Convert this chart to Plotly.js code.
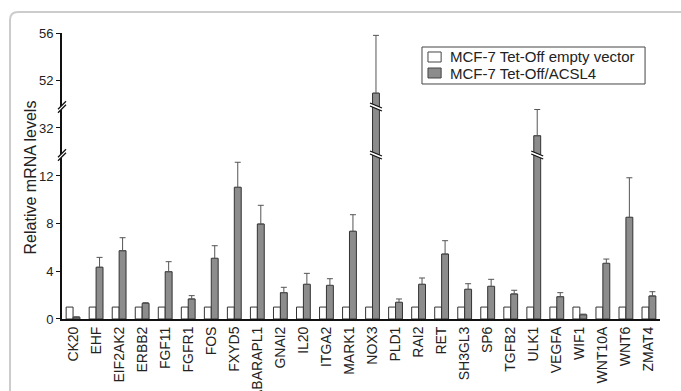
<!DOCTYPE html>
<html>
<head>
<meta charset="utf-8">
<script src="https://cdn.plot.ly/plotly-3.0.1.min.js"></script>
<style>html,body{margin:0;padding:0;background:#fff;}#chart{width:681px;height:391px;}</style>
</head>
<body>
<div id="chart"></div>
<script>
// ---- data ----
const categories = ["CK20","EHF","EIF2AK2","ERBB2","FGF11","FGFR1","FOS","FXYD5","GABARAPL1","GNAI2","IL20","ITGA2","MARK1","NOX3","PLD1","RAI2","RET","SH3GL3","SP6","TGFB2","ULK1","VEGFA","WIF1","WNT10A","WNT6","ZMAT4"];
const emptyVector = [1,1,1,1,1,1,1,1,1,1,1,1,1,1,1,1,1,1,1,1,1,1,1,1,1,1];
const acsl4 = [0.15,4.34,5.73,1.31,3.97,1.68,5.09,11.05,7.97,2.21,2.91,2.82,7.36,50.9,1.40,2.91,5.45,2.49,2.74,2.10,31.35,1.87,0.36,4.67,8.53,1.93];
const acsl4Err = [0.03,0.83,1.09,0.06,0.84,0.28,1.06,2.1,1.57,0.45,0.92,0.56,1.39,4.9,0.28,0.53,1.12,0.47,0.59,0.31,2.2,0.34,0.05,0.36,3.32,0.36];
const seriesNames = ["MCF-7 Tet-Off empty vector","MCF-7 Tet-Off/ACSL4"];
const seriesColors = ["#ffffff","#8c8c8c"];

// broken axis segments
const segRanges = [[0,13.76],[29.73,33.76],[49.73,56]];
const segTicks = [[0,4,8,12],[32],[52,56]];
const segDomains = [[0,0.5734],[0.5734,0.7413],[0.7413,1]];
const axisNames = ["y","y2","y3"];

const traces = [];
axisNames.forEach((ax,i)=>{
  traces.push({type:"bar", x:categories, y:emptyVector, name:seriesNames[0], yaxis:ax, xaxis:"x",
    marker:{color:seriesColors[0], line:{color:"#333333", width:1}}, showlegend:false});
  traces.push({type:"bar", x:categories, y:acsl4, name:seriesNames[1], yaxis:ax, xaxis:"x",
    marker:{color:seriesColors[1], line:{color:"#333333", width:1}}, showlegend:false,
    error_y:{type:"data", array:acsl4Err, symmetric:false, arrayminus:acsl4Err.map(()=>0), color:"#555555", thickness:1, width:3}});
});

const FONT = "Liberation Sans, Arial, sans-serif";
const tickFont = {family:FONT, size:13, color:"#222"};
function yax(i){
  return {domain:segDomains[i], range:segRanges[i], tickvals:segTicks[i], ticktext:segTicks[i].map(String),
    showline:true, linecolor:"#111", linewidth:2, ticks:"outside", ticklen:4, tickwidth:1, tickcolor:"#111",
    showgrid:false, zeroline:false, tickfont:tickFont, anchor:"x", fixedrange:true};
}

const shapes = [];
// outer frame
shapes.push({type:"path", xref:"paper", yref:"paper", xsizemode:"pixel", ysizemode:"pixel", xanchor:0, yanchor:0,
  path:"M -52,-90 L -52,299 Q -52,307 -44,307 L 640,307", line:{color:"#cccccc", width:2}, layer:"below"});

function breakMark(xref, xanchor, yfrac, w, h, gap){
  const p1 = `M ${-w},${-h/2-gap/2} L ${w},${h/2-gap/2}`;
  const p2 = `M ${-w},${-h/2+gap/2} L ${w},${h/2+gap/2}`;
  shapes.push({type:"path", xref:xref, yref:"paper", xsizemode:"pixel", ysizemode:"pixel", xanchor:xanchor, yanchor:yfrac,
    path:`M ${-w},${-h/2-gap/2} L ${w},${h/2-gap/2} L ${w},${h/2+gap/2} L ${-w},${-h/2+gap/2} Z`,
    fillcolor:"#ffffff", line:{width:0}, layer:"above"});
  shapes.push({type:"path", xref:xref, yref:"paper", xsizemode:"pixel", ysizemode:"pixel", xanchor:xanchor, yanchor:yfrac,
    path:p1+" "+p2, line:{color:"#111", width:1.3}, layer:"above"});
}
// axis breaks
[segDomains[0][1], segDomains[1][1]].forEach(yf=>breakMark("paper",0,yf,4,8,3.5));
// bar breaks
const bargap = 0.4, barW = (1-bargap)/2, grayOffset = barW/2;
acsl4.forEach((v,k)=>{
  [0,1].forEach(s=>{
    if (v > segRanges[s][1]) breakMark("x", k+grayOffset, segDomains[s][1], 6, -5, 3);
  });
});

// legend (box, swatches, labels)
const legBox = {x0:0.602, x1:0.975, y0:0.8217, y1:0.951};
shapes.push({type:"rect", xref:"paper", yref:"paper", x0:legBox.x0, x1:legBox.x1, y0:legBox.y0, y1:legBox.y1,
  line:{color:"#444", width:1}, fillcolor:"#ffffff", layer:"above"});
const legRows = [{y0:0.8986, y1:0.9336, ty:0.9161},{y0:0.8427, y1:0.8776, ty:0.8601}];
const annotations = [];
legRows.forEach((r,i)=>{
  shapes.push({type:"rect", xref:"paper", yref:"paper", x0:0.612, x1:0.634, y0:r.y0, y1:r.y1,
    line:{color:"#444", width:1}, fillcolor:seriesColors[i], layer:"above"});
  annotations.push({text:seriesNames[i], xref:"paper", yref:"paper", x:0.646, y:r.ty, xanchor:"left", yanchor:"middle",
    showarrow:false, font:{family:FONT, size:15, color:"#222"}});
});
annotations.push({text:"Relative mRNA levels", xref:"paper", yref:"paper", x:-0.0535, y:0.495, xanchor:"center", yanchor:"middle",
  textangle:-90, showarrow:false, font:{family:FONT, size:16, color:"#222"}});

const layout = {
  width:681, height:391,
  margin:{l:62, r:21, t:33, b:72, pad:0},
  paper_bgcolor:"#ffffff", plot_bgcolor:"#ffffff",
  barmode:"group", bargap:bargap, bargroupgap:0,
  showlegend:false,
  xaxis:{type:"category", range:[-0.48,25.48], showline:true, linecolor:"#111", linewidth:2, ticks:"", tickangle:-90,
    tickfont:{family:FONT, size:14, color:"#222"}, showgrid:false, zeroline:false, anchor:"y", fixedrange:true},
  yaxis:yax(0), yaxis2:yax(1), yaxis3:yax(2),
  shapes:shapes,
  annotations:annotations
};

Plotly.newPlot("chart", traces, layout, {displayModeBar:false, staticPlot:true});
</script>
</body>
</html>
